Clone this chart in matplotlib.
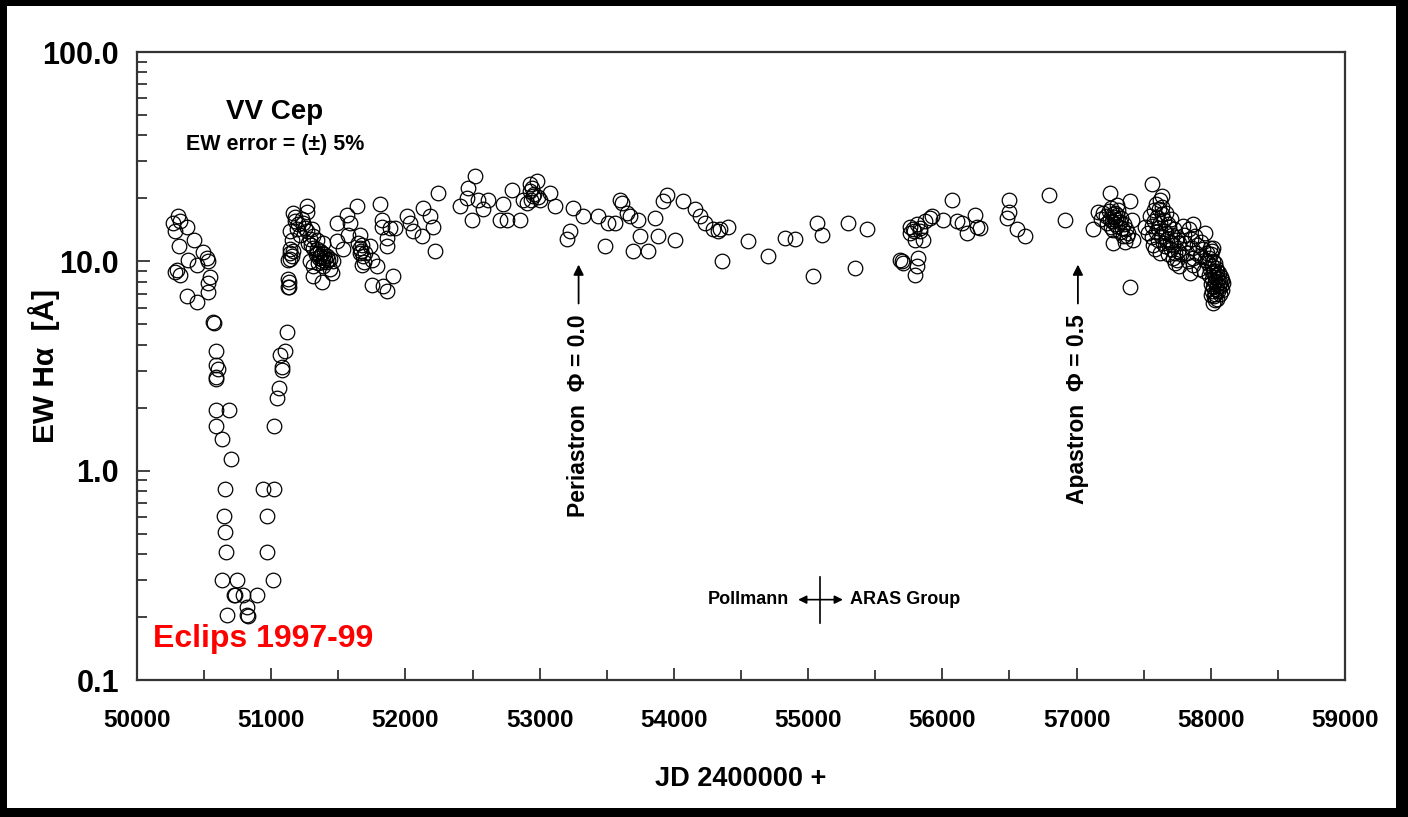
import matplotlib
matplotlib.use("Agg")
import matplotlib.pyplot as plt
from matplotlib.patches import Rectangle
from matplotlib.ticker import FixedLocator, LogLocator, NullFormatter, FuncFormatter

plt.rcParams['font.family'] = ['Liberation Sans', 'DejaVu Sans']

# --- data: (JD - 2400000, EW Halpha in Angstrom) ---
eclipse_jd = [50305, 50268, 50320, 50373, 50283, 50313, 50425, 50380, 50447, 50492,
              50522, 50529, 50298, 50320, 50283, 50544, 50529, 50529, 50373, 50447,
              50566, 50570, 50589, 50589, 50605, 50589, 50589, 50589, 50686, 50589,
              50633, 50700, 50656, 50648, 50656, 50663, 50633, 50745, 50723, 50728,
              50790, 50820, 50671, 50820, 50825, 50894,
              50939, 51021, 50969, 50969, 51013, 51080, 51058, 51043, 51021, 51118,
              51103, 51066, 51080, 51133, 51133, 51140, 51140]
eclipse_ew = [16.5, 15.3, 15.5, 14.6, 13.9, 11.9, 12.7, 10.2, 9.6, 11.1,
              10.4, 10.0, 9.1, 8.6, 8.9, 8.4, 7.9, 7.1, 6.8, 6.4,
              5.15, 5.05, 3.74, 3.21, 3.07, 2.81, 2.75, 1.94, 1.94, 1.64,
              1.42, 1.14, 0.82, 0.61, 0.51, 0.41, 0.30, 0.30, 0.256, 0.254,
              0.256, 0.224, 0.205, 0.205, 0.203, 0.256,
              0.82, 0.82, 0.61, 0.41, 0.30, 3.04, 2.47, 2.23, 1.64, 4.62,
              3.74, 3.58, 3.14, 8.0, 7.5, 11.0, 10.3]

recov_jd = [51165, 51265, 51265, 51177, 51140, 51190, 51239, 51215, 51153, 51265,
            51302, 51314, 51339, 51276, 51314, 51339, 51364, 51388, 51413, 51351,
            51314, 51388, 51451, 51376, 51314, 51140, 51153, 51128, 51128, 51128,
            51165, 51388, 51488, 51488, 51563, 51587, 51637, 51575, 51537, 51662,
            51662, 51686, 51674, 51749, 51786, 51736, 51811, 51823, 51823, 51885,
            51922, 51860, 51860, 51910, 51749, 51835, 51860, 52010, 52034, 52059,
            52134, 52183, 52208, 52121, 52221, 52245,
            51340, 51360, 51375, 51390, 51400, 51420, 51435, 51405, 51380, 51355,
            51330, 51300, 51290, 51250, 51230, 51200, 51180, 51290, 51440, 51460,
            51650, 51660, 51670, 51680, 51700, 51690]
recov_ew = [17.1, 18.3, 17.3, 15.5, 13.9, 14.2, 15.3, 13.4, 12.7, 13.9,
            14.2, 13.2, 12.7, 12.2, 11.6, 11.0, 10.6, 10.2, 10.6, 9.8,
            9.5, 9.5, 8.8, 8.0, 8.5, 11.4, 10.6, 10.2, 8.2, 7.5,
            11.2, 12.2, 15.3, 12.5, 16.7, 15.3, 18.3, 13.4, 11.4, 13.4,
            11.6, 10.6, 9.6, 10.2, 9.5, 11.8, 18.7, 15.8, 14.6, 14.4,
            14.4, 12.9, 11.8, 8.5, 7.7, 7.6, 7.2, 16.4, 15.3, 13.9,
            18.0, 16.4, 14.6, 13.2, 11.2, 21.2,
            11.5, 11.2, 10.9, 10.8, 10.4, 10.1, 10.3, 9.9, 9.9, 10.4,
            10.8, 12.0, 12.8, 14.5, 16.0, 15.0, 16.2, 10.0, 9.2, 10.0,
            12.3, 10.9, 11.2, 12.0, 11.0, 9.9]

mid_jd = [52469, 52519, 52407, 52457, 52494, 52543, 52581, 52618, 52730, 52792,
          52705, 52755, 52854, 52928, 52978, 52879, 52904, 52953, 52928, 53003,
          53077, 53115, 53251, 53326, 53227, 53202, 53437, 53512, 53562, 53487,
          53599, 53612, 53649, 53674, 53736, 53860, 53748, 53698, 53810, 53884,
          54009, 53947, 53922, 54071, 54158, 54195, 54232, 54294, 54344, 54406,
          54357, 54555, 54704, 54829, 54903, 55065, 55102, 55040, 55300, 55350,
          55437, 52940, 52960, 52935, 52990, 54330]
mid_ew = [22.4, 25.7, 18.3, 20.1, 15.8, 19.7, 17.7, 19.6, 18.7, 22.0,
          15.8, 15.8, 15.8, 23.3, 24.1, 19.7, 19.0, 20.5, 21.6, 19.7,
          21.2, 18.3, 18.0, 16.4, 13.9, 12.8, 16.4, 15.3, 15.3, 11.8,
          19.7, 19.0, 17.0, 16.4, 15.8, 16.1, 13.2, 11.2, 11.2, 13.2,
          12.7, 20.8, 19.4, 19.4, 17.7, 16.4, 15.3, 14.2, 14.2, 14.6,
          10.0, 12.5, 10.6, 12.9, 12.8, 15.3, 13.4, 8.5, 15.3, 9.3,
          14.2, 22.5, 21.0, 19.6, 20.3, 13.9]

aras_jd = [55760, 55785, 55810, 55835, 55872, 55909, 55922, 55797, 55859, 55760,
           55686, 55710, 55822, 55810, 55797, 56008, 56071, 56108, 56145, 56245,
           56257, 56182, 56282, 56500, 56493, 56481, 56555, 56617, 56791, 56915,
           57121, 57163, 55700, 55790, 55830]
aras_ew = [14.6, 14.2, 15.0, 14.4, 15.6, 16.1, 16.4, 12.7, 12.7, 13.7,
           10.2, 9.8, 10.4, 9.5, 8.6, 15.8, 19.7, 15.6, 15.3, 16.7,
           14.6, 13.7, 14.4, 19.7, 17.3, 16.1, 14.2, 13.2, 20.8, 15.8,
           14.2, 17.3, 10.0, 14.0, 13.9]

late_jd = [57250, 57561, 57275, 57399, 57399, 57412, 57375, 57424, 57511, 57536,
           57623, 57636, 57735, 57760, 57847, 57871, 57958, 58020, 58020, 57871,
           57220, 57230, 57240, 57250, 57255, 57260, 57265, 57270, 57275, 57280,
           57285, 57290, 57295, 57300, 57305, 57310, 57320, 57325, 57330, 57340,
           57345, 57350, 57360, 57370, 57385, 57180, 57200, 57300,
           57550, 57560, 57565, 57570, 57575, 57580, 57585, 57590, 57595, 57600,
           57605, 57610, 57615, 57620, 57625, 57630, 57635, 57640, 57645, 57650,
           57655, 57660, 57665, 57670, 57675, 57680, 57685, 57690, 57695, 57700,
           57705, 57710, 57715, 57720, 57725, 57730, 57740, 57745, 57750, 57755,
           57765, 57775,
           57790, 57800, 57810, 57820, 57830, 57840, 57850, 57860, 57870, 57880,
           57890, 57900, 57910, 57920, 57930, 57940, 57950, 57960,
           57975, 57980, 57985, 57990, 57995, 58000, 58005, 58008, 58010, 58012,
           58015, 58018, 58020, 58022, 58025, 58028, 58030, 58033, 58035, 58038,
           58040, 58043, 58046, 58048, 58050, 58053, 58056, 58060, 58063, 58066,
           58070, 58073, 58076, 58080, 58085, 58090, 58000, 58030, 58010, 57995]
late_ew = [21.2, 23.3, 12.2, 7.5, 19.4, 15.8, 13.2, 12.7, 14.6, 13.7,
           19.7, 20.5, 9.8, 9.5, 8.8, 15.0, 13.7, 11.6, 6.3, 10.4,
           16.5, 15.2, 17.4, 16.0, 14.6, 17.9, 15.5, 16.8, 14.1, 16.2,
           17.0, 15.0, 15.8, 16.6, 14.8, 17.5, 15.4, 13.8, 16.1, 14.4,
           13.2, 15.0, 12.4, 14.2, 13.6, 15.9, 17.0, 18.5,
           16.5, 14.8, 13.0, 12.0, 17.5, 15.6, 11.4, 13.8, 18.8, 16.2,
           12.6, 14.4, 17.8, 11.0, 15.2, 13.2, 18.2, 16.8, 12.2, 14.0,
           15.8, 11.8, 13.6, 17.0, 12.8, 15.0, 10.8, 14.6, 12.4, 16.0,
           11.4, 13.4, 10.4, 12.0, 14.2, 11.0, 12.6, 10.2, 13.0, 11.2,
           12.2, 10.8,
           14.8, 13.4, 12.2, 11.0, 10.0, 14.2, 12.8, 11.6, 9.6, 13.2,
           11.0, 12.0, 9.2, 10.6, 12.4, 11.4, 9.0, 10.2,
           11.0, 9.8, 8.6, 10.4, 9.2, 7.8, 10.8, 8.2, 9.5, 7.2,
           10.0, 8.8, 7.5, 9.0, 6.8, 8.4, 9.8, 7.0, 8.0, 9.3,
           7.4, 8.6, 6.6, 7.8, 9.0, 8.2, 7.2, 8.8, 7.6, 8.0,
           7.0, 8.4, 7.6, 8.1, 7.3, 7.9, 6.9, 6.5, 11.2, 11.6]

jd = eclipse_jd + recov_jd + mid_jd + aras_jd + late_jd
ew = eclipse_ew + recov_ew + mid_ew + aras_ew + late_ew

periastron_jd = 53290
apastron_jd = 57010
divider_jd = 55090

W, H = 1408, 817
fig = plt.figure(figsize=(W / 100, H / 100), dpi=100, facecolor="black")
fig.patches.append(Rectangle((7 / W, 9 / H), (1396 - 7) / W, (811 - 9) / H,
                             transform=fig.transFigure, facecolor="white",
                             edgecolor="none", zorder=-5))

ax = fig.add_axes([137 / W, 1 - 680 / H, (1345 - 137) / W, (680 - 52) / H])
ax.set_facecolor("white")

ax.plot(jd, ew, linestyle="none", marker="o", markersize=10.5,
        markerfacecolor="none", markeredgecolor="black", markeredgewidth=0.9)

ax.set_yscale("log")
ax.set_ylim(0.1, 100)
ax.set_xlim(50000, 59000)

ax.xaxis.set_major_locator(FixedLocator(range(50000, 59001, 1000)))
ax.xaxis.set_minor_locator(FixedLocator(range(50500, 59000, 1000)))
ax.yaxis.set_major_locator(FixedLocator([0.1, 1, 10, 100]))
ax.yaxis.set_minor_locator(LogLocator(base=10, subs=range(2, 10)))
ax.yaxis.set_minor_formatter(NullFormatter())
ax.yaxis.set_major_formatter(FuncFormatter(lambda v, p: f"{v:.1f}"))

ax.tick_params(axis="both", which="both", direction="in", color="#333333",
               width=1.3, top=False, right=False)
ax.tick_params(axis="both", which="major", length=9)
ax.tick_params(axis="both", which="minor", length=7)
ax.tick_params(axis="x", which="major", pad=21, labelsize=17.5)
ax.tick_params(axis="y", which="major", pad=13, labelsize=22)
for lab in ax.get_xticklabels() + ax.get_yticklabels():
    lab.set_fontweight("bold")

for sp in ax.spines.values():
    sp.set_color("#333333")
    sp.set_linewidth(1.6)

ax.set_xlabel("JD 2400000 +", fontsize=19.5, fontweight="bold")
ax.set_ylabel("EW H\u03b1  [\u00c5]", fontsize=21.5, fontweight="bold")
ax.xaxis.set_label_coords(0.5, -0.137)
ax.yaxis.set_label_coords(-0.064, 0.5)

ax.text(0.114, 0.905, "VV Cep", transform=ax.transAxes, ha="center", va="center",
        fontsize=20, fontweight="bold")
ax.text(0.114, 0.853, "EW error = (\u00b1) 5%", transform=ax.transAxes, ha="center",
        va="center", fontsize=15.5, fontweight="bold")
ax.text(0.013, 0.065, "Eclips 1997-99", transform=ax.transAxes, ha="left",
        va="center", fontsize=23, fontweight="bold", color="#ff0000")

arrow = dict(arrowstyle="-|>", color="black", lw=1.3, mutation_scale=15)
for xj, label in [(periastron_jd, "Periastron  \u03a6 = 0.0"),
                  (apastron_jd, "Apastron  \u03a6 = 0.5")]:
    ax.annotate("", xy=(xj, 9.95), xytext=(xj, 6.1), arrowprops=arrow)
    ax.text(xj, 5.6, label, rotation=90, ha="center", va="top",
            fontsize=16.5, fontweight="bold")

ax.annotate("", xy=(54905, 0.242), xytext=(55280, 0.242),
            arrowprops=dict(arrowstyle="<|-|>", color="black", lw=1.2,
                            mutation_scale=12))
ax.plot([divider_jd, divider_jd], [0.188, 0.31], color="black", lw=1.2)
ax.text(54860, 0.242, "Pollmann", ha="right", va="center", fontsize=13,
        fontweight="bold")
ax.text(55315, 0.242, "ARAS Group", ha="left", va="center", fontsize=13,
        fontweight="bold")

fig.savefig("out.png", dpi=100, facecolor=fig.get_facecolor())
